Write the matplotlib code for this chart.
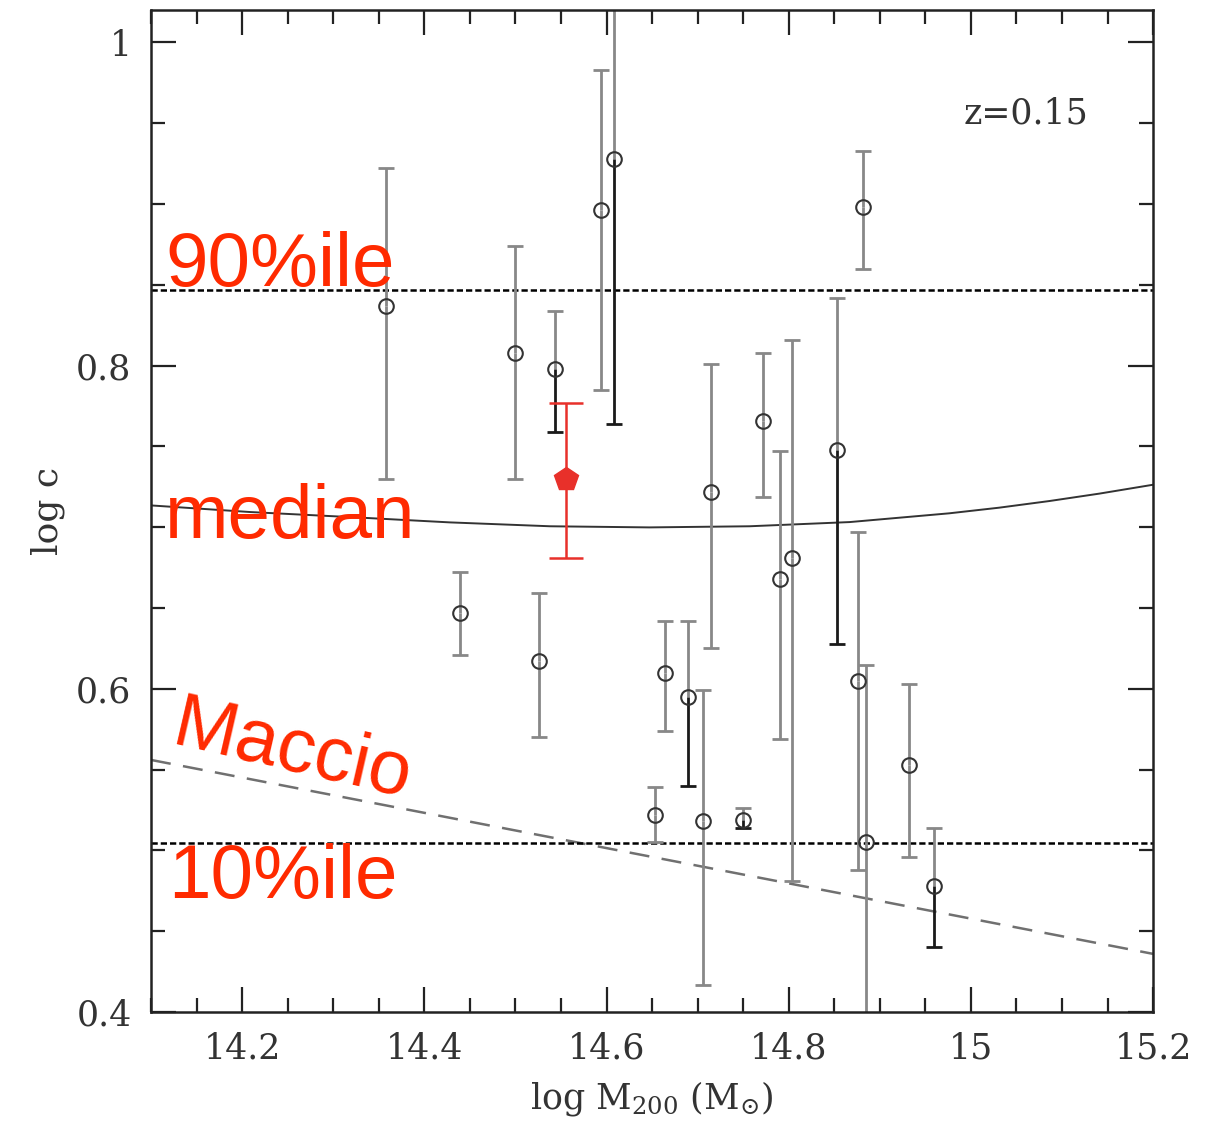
import numpy as np
import matplotlib
matplotlib.use("Agg")
import matplotlib.pyplot as plt
from matplotlib.ticker import MultipleLocator

# cluster measurements (log M200, log c) with asymmetric errors
log_m = [14.358, 14.439, 14.500, 14.526, 14.544, 14.594, 14.608, 14.653, 14.664,
         14.690, 14.706, 14.715, 14.750, 14.772, 14.790, 14.804, 14.853, 14.876,
         14.882, 14.885, 14.932, 14.960]
log_c = [0.837, 0.647, 0.808, 0.617, 0.798, 0.896, 0.928, 0.522, 0.610,
         0.595, 0.518, 0.722, 0.519, 0.766, 0.668, 0.681, 0.748, 0.605,
         0.898, 0.505, 0.553, 0.478]
c_hi = [0.922, 0.672, 0.874, 0.659, 0.834, 0.983, 1.06, 0.539, 0.642,
        0.642, 0.599, 0.801, 0.526, 0.808, 0.747, 0.816, 0.842, 0.697,
        0.933, 0.615, 0.603, 0.514]
c_lo = [0.730, 0.621, 0.730, 0.570, 0.759, 0.785, 0.764, 0.505, 0.574,
        0.540, 0.417, 0.625, 0.514, 0.719, 0.569, 0.481, 0.628, 0.488,
        0.860, 0.38, 0.496, 0.440]
# lower half of the bar drawn in black for these
lower_dark = [False, False, False, False, True, False, True, False, False,
              True, False, False, True, False, False, False, True, False,
              False, False, False, True]

# stacked / highlighted point
red_m = 14.556
red_c = 0.730
red_hi = 0.777
red_lo = 0.681

# simulation relations
median_m = [14.100, 14.209, 14.318, 14.428, 14.538, 14.647, 14.757, 14.867,
            14.976, 15.031, 15.086, 15.141, 15.200]
median_c = [0.7135, 0.7094, 0.7063, 0.7030, 0.7006, 0.6999, 0.7006, 0.7032,
            0.7086, 0.7121, 0.7162, 0.7208, 0.7263]
maccio_m = [14.1, 15.2]
maccio_c = [0.556, 0.436]
p90 = 0.847
p10 = 0.5045

gray = "#888888"
dark = "#1a1a1a"
red_txt = "#ff2a00"

plt.rcParams["mathtext.fontset"] = "dejavuserif"

fig = plt.figure(figsize=(12.26, 11.23), dpi=100)
ax = fig.add_axes([0.1232, 0.0988, 0.8173, 0.8922])

ax.plot(median_m, median_c, "-", color="#333333", lw=1.4)
ax.plot(maccio_m, maccio_c, "--", color="#707070", lw=1.8, dashes=(8, 5))
ax.axhline(p90, color="black", lw=1.8, ls=(0, (2.5, 1.2)))
ax.axhline(p10, color="black", lw=1.8, ls=(0, (2.5, 1.2)))

for m, c, hi, lo, dk in zip(log_m, log_c, c_hi, c_lo, lower_dark):
    ax.vlines(m, c, hi, color=gray, lw=2)
    ax.plot(m, hi, marker="_", ms=12, mew=2, color=gray)
    lc = dark if dk else gray
    ax.vlines(m, lo, c, color=lc, lw=2)
    ax.plot(m, lo, marker="_", ms=12, mew=2, color=lc)
ax.plot(log_m, log_c, "o", ms=10.5, mfc="none", mec="#333333", mew=1.5)

ax.errorbar(red_m, red_c, yerr=[[red_c - red_lo], [red_hi - red_c]],
            fmt="p", ms=18, color="#e8302a", ecolor="#e8302a",
            elinewidth=1.8, capsize=12, capthick=1.8)

ax.set_xlim(14.1, 15.2)
ax.set_ylim(0.4, 1.02)
ax.xaxis.set_major_locator(MultipleLocator(0.2))
ax.xaxis.set_minor_locator(MultipleLocator(0.05))
ax.yaxis.set_major_locator(MultipleLocator(0.2))
ax.yaxis.set_minor_locator(MultipleLocator(0.05))
ax.set_xticks([14.2, 14.4, 14.6, 14.8, 15.0, 15.2])
ax.set_xticklabels(["14.2", "14.4", "14.6", "14.8", "15", "15.2"])
ax.set_yticks([0.4, 0.6, 0.8, 1.0])
ax.set_yticklabels(["0.4", "0.6", "0.8", "1"])
ax.tick_params(which="both", direction="in", top=True, right=True, width=1.6,
               labelsize=25, pad=14, colors="#222222")
ax.tick_params(which="major", length=18)
ax.tick_params(which="minor", length=10)
for lab in ax.get_xticklabels() + ax.get_yticklabels():
    lab.set_family("DejaVu Serif")
    lab.set_color("#333333")
for s in ax.spines.values():
    s.set_linewidth(1.8)
    s.set_color("#222222")

ax.set_xlabel(r"log M$_{200}$ (M$_{\odot}$)", family="DejaVu Serif", fontsize=25,
              color="#333333", labelpad=10)
ax.set_ylabel("log c", family="DejaVu Serif", fontsize=26, color="#333333", labelpad=8)

ax.text(0.935, 0.887, "z=0.15", transform=ax.transAxes, ha="right", va="baseline",
        family="DejaVu Serif", fontsize=25, color="#333333")

ax.text(0.014, 0.7246, "90%ile", transform=ax.transAxes, ha="left", va="baseline",
        family="Liberation Sans", fontsize=55, color=red_txt)
ax.text(0.014, 0.473, "median", transform=ax.transAxes, ha="left", va="baseline",
        family="Liberation Sans", fontsize=55, color=red_txt)
ax.text(0.017, 0.1138, "10%ile", transform=ax.transAxes, ha="left", va="baseline",
        family="Liberation Sans", fontsize=55, color=red_txt)
ax.text(0.1407, 0.2595, "Maccio", transform=ax.transAxes, ha="center", va="center",
        rotation=-13, rotation_mode="anchor",
        family="Liberation Sans", fontsize=55, color=red_txt)

fig.savefig("out.png", dpi=100)
